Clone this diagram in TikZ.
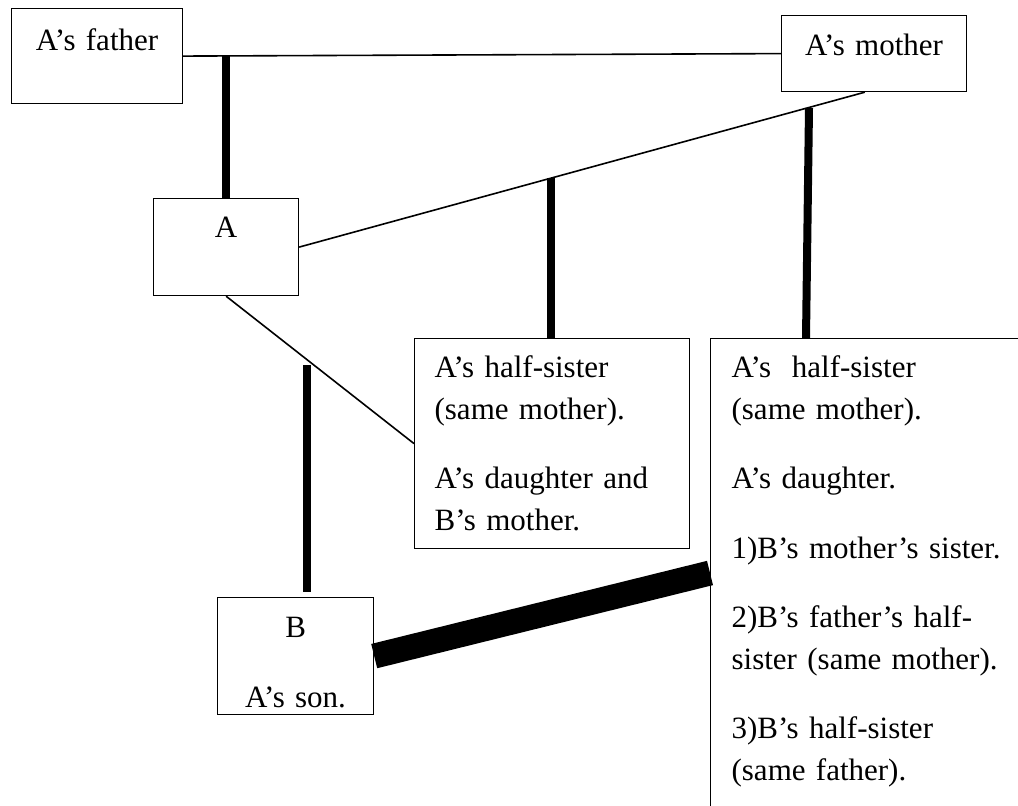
\documentclass[tikz,border=0pt]{standalone}
\usepackage{fontspec}
\setmainfont{Liberation Serif}
\usetikzlibrary{calc}

\begin{document}
\begin{tikzpicture}[x=0.5pt,y=-0.5pt,
    famBox/.style={draw, line width=0.6pt, anchor=north west, inner ysep=0pt,
      font=\fontsize{15.5}{20.75}\selectfont},
    midBox/.style={famBox, inner xsep=0pt, align=center},
    sideBox/.style={famBox, inner xsep=10pt, align=left},
    wed/.style={line width=0.8pt},
    kin/.style={line width=4pt},
    heavy/.style={line width=12.5pt}]
  \useasboundingbox (0,0) rectangle (1018,806);
  \clip (0,0) rectangle (1018,806);

  % parents
  \node[midBox, text width=85.5pt, text height=21pt, text depth=26.5pt] (father) at (11,8) {A’s father};
  \node[midBox, text width=92.5pt, text height=20pt, text depth=18pt] (mother) at (781,15) {A’s mother};

  % children
  \node[midBox, text width=72.5pt, text height=19.5pt, text depth=29pt] (A) at (153,198) {A};
  \node[sideBox, text width=117.5pt, text height=19.5pt, text depth=85.5pt] (sis) at (414,338)
    {A’s half-sister\\(same mother).\\[14pt]A’s daughter and\\B’s mother.};
  \node[sideBox, inner xsep=10.5pt, text width=149pt, text height=19.5pt, text depth=230.5pt] (sis2) at (710,338)
    {A’s\ \ half-sister\\(same mother).\\[14pt]A’s daughter.\\[14pt]1)B’s mother’s sister.\\[14pt]2)B’s father’s half-\\sister (same mother).\\[14pt]3)B’s half-sister\\(same father).};
  \node[midBox, text width=78pt, text height=20pt, text depth=38.5pt] (B) at (217,597) {B\\[14pt]A’s son.};

  % links
  \draw[wed] (father.east) -- (mother.west);
  \draw[kin] (A.north) -- (A.north |- father.east);
  \coordinate (mfoot) at ($(mother.south west)!0.45!(mother.south east)$);
  \draw[wed] (A.east) -- (mfoot);
  \coordinate (sisTop) at ($(A.east)!0.445!(mfoot)$);
  \draw[kin] (sisTop) -- (sisTop |- sis.north);
  \coordinate (m2top) at (809,108);
  \draw[kin] (m2top) -- ($(sis2.north west)+(96,0)$);
  \draw[wed] (A.south) -- (sis.west);
  \coordinate (bTop) at (307,365);
  \coordinate (bFoot) at (307,592);
  \draw[kin] (bTop) -- (bFoot);
  \draw[heavy] (B.east) -- ($(sis2.north west)+(0,235)$);
\end{tikzpicture}
\end{document}
